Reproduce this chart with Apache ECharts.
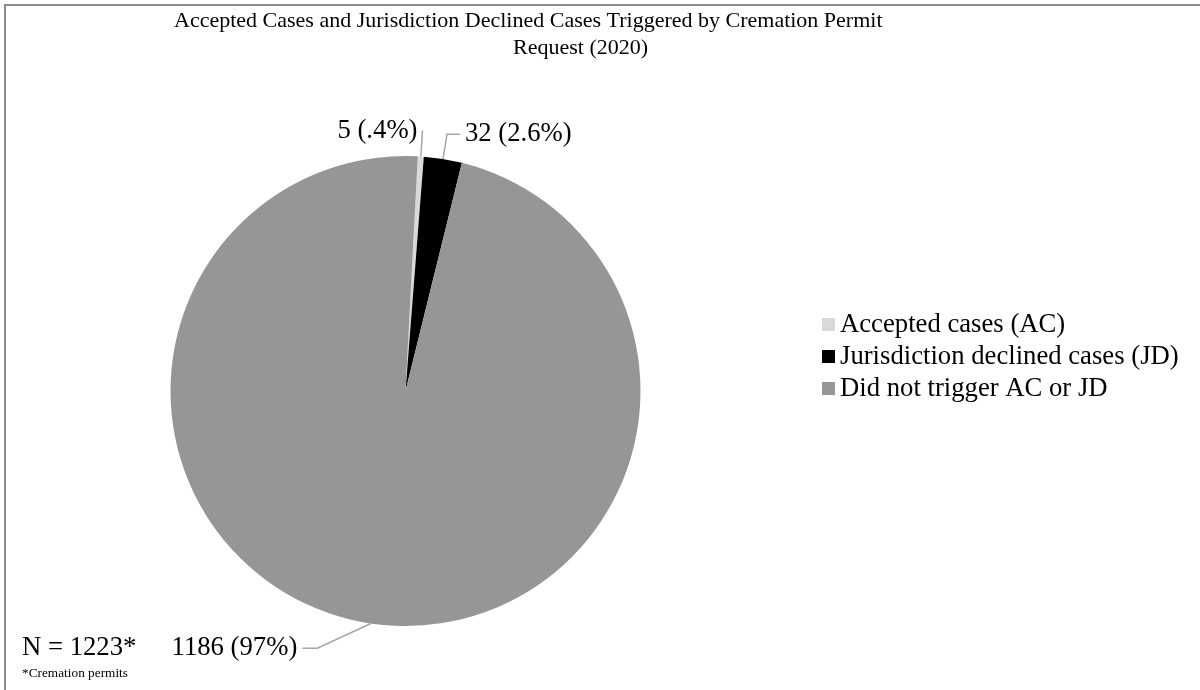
<!DOCTYPE html>
<html>
<head>
<meta charset="utf-8">
<script src="https://cdn.jsdelivr.net/npm/echarts@6/dist/echarts.min.js"></script>
<style>
  html, body { margin: 0; padding: 0; background: #fff; }
  #chart { width: 1200px; height: 690px; }
</style>
</head>
<body>
<div id="chart"></div>
<script>
const categories = ['Accepted cases (AC)', 'Jurisdiction declined cases (JD)', 'Did not trigger AC or JD'];
const values = [5, 32, 1186];
const pctLabels = ['.4%', '2.6%', '97%'];
const titleLine1 = 'Accepted Cases and Jurisdiction Declined Cases Triggered by Cremation Permit';
const titleLine2 = 'Request (2020)';
const noteMain = 'N = 1223*';
const noteSub = '*Cremation permits';

const palette = ['#d9d9d9', '#000000', '#969696'];
const serif = "'Liberation Serif', 'Times New Roman', serif";
const lineLens = [[26, 0], [25, 13], [25, 65]];

const chart = echarts.init(document.getElementById('chart'), null, { renderer: 'canvas' });

const data = categories.map((name, i) => ({
  name: name,
  value: values[i],
  pct: pctLabels[i],
  itemStyle: { color: palette[i] },
  labelLine: { length: lineLens[i][0], length2: lineLens[i][1] }
}));

chart.setOption({
  animation: false,
  backgroundColor: '#ffffff',
  graphic: [{
    type: 'rect',
    silent: true,
    shape: { x: 5, y: 5, width: 1400, height: 900 },
    style: { fill: 'none', stroke: '#8a8a8a', lineWidth: 2 }
  }],
  title: [
    { text: titleLine1, left: 174, top: 10, padding: 0,
      textStyle: { fontFamily: serif, fontSize: 22, fontWeight: 'normal', color: '#000' } },
    { text: titleLine2, left: 513, top: 37, padding: 0,
      textStyle: { fontFamily: serif, fontSize: 22, fontWeight: 'normal', color: '#000' } },
    { text: noteMain, left: 22, top: 634, padding: 0,
      textStyle: { fontFamily: serif, fontSize: 26.7, fontWeight: 'normal', color: '#000' } },
    { text: noteSub, left: 22, top: 667, padding: 0,
      textStyle: { fontFamily: serif, fontSize: 13.3, fontWeight: 'normal', color: '#000' } }
  ],
  legend: {
    orient: 'vertical',
    left: 817,
    top: 306,
    itemWidth: 13,
    itemHeight: 13,
    itemGap: 5,
    icon: 'rect',
    data: categories,
    textStyle: { fontFamily: serif, fontSize: 26.7, color: '#000' }
  },
  series: [{
    type: 'pie',
    center: [405.5, 391],
    radius: 235,
    startAngle: 87,
    clockwise: true,
    avoidLabelOverlap: false,
    data: data,
    label: {
      show: true,
      position: 'outside',
      fontFamily: serif,
      fontSize: 26.7,
      color: '#000',
      formatter: (p) => p.value + ' (' + p.data.pct + ')'
    },
    labelLine: {
      show: true,
      smooth: false,
      lineStyle: { color: '#a6a6a6', width: 1.5 }
    },
    labelLayout: function (params) {
      if (params.dataIndex === 0) {
        return { align: 'right', dx: -10 };
      }
      if (params.dataIndex === 2 && params.labelLinePoints) {
        const pts = params.labelLinePoints;
        const p0 = pts[0], p2 = pts[2];
        return { labelLinePoints: [p0, [p2[0] + 15, p2[1]], p2] };
      }
      return {};
    },
    emphasis: { disabled: true }
  }]
});
</script>
</body>
</html>
